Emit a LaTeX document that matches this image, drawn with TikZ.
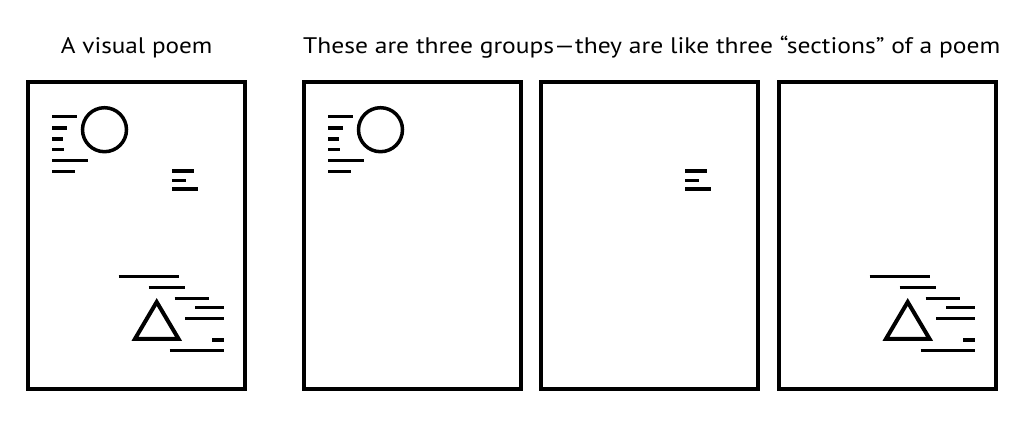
\documentclass[tikz,border=0pt]{standalone}
\usepackage{fontspec}
\setmainfont{PT Sans}
\begin{document}
\begin{tikzpicture}[x=1pt,y=-1pt,
  frame/.style={draw=black,line width=4pt},
  bar/.style={draw=black,line width=3.5pt,line cap=butt},
  ring/.style={draw=black,line width=3.5pt},
  tri/.style={draw=black,line width=4pt,line join=miter},
  title/.style={anchor=base west,inner sep=0pt,font=\fontsize{22.5}{26}\selectfont}]
\useasboundingbox (0,0) rectangle (1024,420);
\fill[white] (0,0) rectangle (1024,420);
% titles
\node[title] (t1) at (60.7,53.3) {\scalebox{1.12}[1]{A visual poem}};
\node[title] (t2) at (303,53.3) {\scalebox{1.135}[1]{These are three groups---they are like three ``sections'' of a poem}};
% frames
\foreach \dx/\nm in {0/p1,276/p2,513/p3,751/p4}{
  \draw[frame] (28+\dx,81.5) rectangle (245+\dx,389);
}
% group A: circle and bars (panels 1 and 2)
\foreach \dx in {0,276}{
  \begin{scope}[xshift=\dx]
    \draw[ring] (104.5,129.7) circle[radius=22];
    \draw[bar] (52.3,116.7) -- (76.7,116.7);
    \draw[bar] (52.3,128) -- (67.3,128);
    \draw[bar] (52.3,139) -- (62.7,139);
    \draw[bar] (52.3,149.3) -- (64,149.3);
    \draw[bar] (52.3,160.3) -- (87.7,160.3);
    \draw[bar] (52.3,171.3) -- (74.7,171.3);
  \end{scope}
}
% group B: middle bars (panels 1 and 3)
\foreach \dx in {0,513}{
  \begin{scope}[xshift=\dx]
    \draw[bar] (172,171) -- (194,171);
    \draw[bar] (172,180.3) -- (186,180.3);
    \draw[bar] (172,189) -- (197.7,189);
  \end{scope}
}
% group C: triangle and bars (panels 1 and 4)
\foreach \dx in {0,751}{
  \begin{scope}[xshift=\dx]
    \draw[tri] (156.7,302) -- (135,338.8) -- (178.5,338.8) -- cycle;
    \draw[bar] (118.7,276.7) -- (178.7,276.7);
    \draw[bar] (148.7,287.5) -- (185.3,287.5);
    \draw[bar] (174.7,298.5) -- (209,298.5);
    \draw[bar] (195.3,307.5) -- (224,307.5);
    \draw[bar] (185,318.3) -- (224,318.3);
    \draw[bar] (212.3,340) -- (224,340);
    \draw[bar] (169.7,350.7) -- (224,350.7);
  \end{scope}
}
\end{tikzpicture}
\end{document}
